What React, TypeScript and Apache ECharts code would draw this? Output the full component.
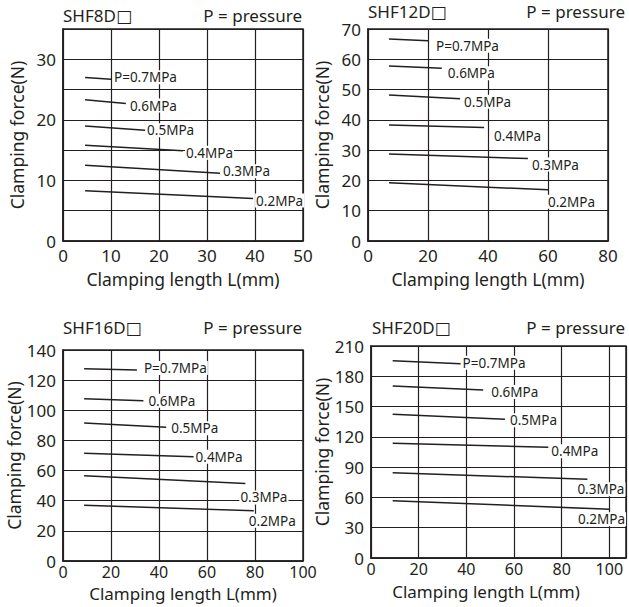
import React, { useEffect, useRef } from 'react';
import * as echarts from 'echarts';

// ---- Data ----
const pressureLabels = ['P=0.7MPa', '0.6MPa', '0.5MPa', '0.4MPa', '0.3MPa', '0.2MPa'];

// SHF8D
const shf8LenStart = [4.6, 4.6, 4.6, 4.6, 4.6, 4.6];
const shf8LenEnd = [10, 13.1, 17.1, 25, 32.7, 39.6];
const shf8ForceStart = [27.0, 23.3, 19.0, 15.8, 12.5, 8.3];
const shf8ForceEnd = [26.7, 22.7, 18.3, 14.9, 11.2, 7.0];

// SHF12D
const shf12LenStart = [7, 7, 7, 7, 7, 7];
const shf12LenEnd = [20, 24.6, 30.7, 38.7, 53.3, 60];
const shf12ForceStart = [66.7, 57.8, 48.2, 38.3, 28.7, 19.2];
const shf12ForceEnd = [66.1, 57.0, 47.0, 37.5, 27.2, 16.9];

// SHF16D
const shf16LenStart = [8.8, 8.8, 8.8, 8.8, 8.8, 8.8];
const shf16LenEnd = [30.8, 33.5, 43, 54.4, 76, 79.5];
const shf16ForceStart = [127.6, 107.7, 91.6, 71.5, 56.6, 37.0];
const shf16ForceEnd = [126.7, 106.4, 88.7, 69.2, 51.5, 33.3];

// SHF20D
const shf20LenStart = [9.1, 9.1, 9.1, 9.1, 9.1, 9.1];
const shf20LenEnd = [37.6, 47.1, 56.2, 74.4, 90.8, 100.3];
const shf20ForceStart = [195.4, 170.4, 142.3, 113.6, 84.5, 56.8];
const shf20ForceEnd = [192.5, 166.4, 137.4, 109.7, 78.0, 48.2];

// Axis ticks
const titles = ['SHF8D□', 'SHF12D□', 'SHF16D□', 'SHF20D□'];
const xMax = [50, 80, 100, 107];
const xStep = [10, 20, 20, 20];
const yMax = [35, 70, 140, 210];
const yStep = [5, 10, 20, 30];
const yLabelStep = [10, 10, 20, 30];

// ---- Layout (styles, not data) ----
const INK = '#231f20';
const FONT = '"Noto Sans", "DejaVu Sans", sans-serif';
const grids = [
  { left: 63, top: 29, width: 240, height: 212 },
  { left: 368, top: 29, width: 240, height: 212 },
  { left: 63, top: 350, width: 240, height: 211 },
  { left: 371, top: 346, width: 255, height: 212 },
];
const labelOffsets = [
  [[2, -2], [3, 2], [1, 0], [2, 2], [2, -2], [2, 2]],
  [[7, 5], [5, 5], [3, 3], [9, 9], [3, 6], [-1, 12]],
  [[6, -2], [4, 0], [4, 1], [1, 0], [-6, 14], [-6, 10]],
  [[1, -1], [7, 2], [4, 1], [2, 4], [-11, 10], [-33, 10]],
];
const titlePos = [
  { lx: 63, rx: 302, y: 18 },
  { lx: 368, rx: 625, y: 14 },
  { lx: 63, rx: 302, y: 330 },
  { lx: 372, rx: 625, y: 330 },
];
const xNamePad = [[0, 0, 0, 0], [0, 0, 0, 0], [0, 0, 0, 0], [0, 25, 0, 0]];
const xNameGap = [29, 29, 24, 25];
const xNameSize = [17.5, 17.5, 17, 17];
const xLabelMargin = [6, 6, 3, 3];
const xLabelSize = [17, 17, 16, 16];

const panels = [
  [shf8LenStart, shf8LenEnd, shf8ForceStart, shf8ForceEnd],
  [shf12LenStart, shf12LenEnd, shf12ForceStart, shf12ForceEnd],
  [shf16LenStart, shf16LenEnd, shf16ForceStart, shf16ForceEnd],
  [shf20LenStart, shf20LenEnd, shf20ForceStart, shf20ForceEnd],
];

export default function App() {
  const ref = useRef<HTMLDivElement>(null);
  useEffect(() => {
    if (!ref.current) return;
    const chart = echarts.init(ref.current, null, { renderer: 'svg' });

    const series: any[] = [];
    panels.forEach((p, i) => {
      const [xs, xe, ys, ye] = p;
      pressureLabels.forEach((lab, j) => {
        series.push({
          type: 'line',
          name: lab,
          xAxisIndex: i,
          yAxisIndex: i,
          data: [
            [xs[j], ys[j]],
            [xe[j], ye[j]],
          ],
          symbol: 'none',
          silent: true,
          z: 5,
          lineStyle: { color: INK, width: 1.5 },
          endLabel: {
            show: true,
            formatter: lab,
            distance: 0,
            offset: labelOffsets[i][j],
            color: INK,
            fontSize: 13.5,
            fontFamily: FONT,
            backgroundColor: '#fff',
            padding: [0, 1],
          },
        });
      });
    });

    const graphics: any[] = [];
    titlePos.forEach((t, i) => {
      graphics.push({
        type: 'text',
        left: t.lx,
        top: t.y - 11,
        style: { text: titles[i], fontSize: 17, fontFamily: FONT, fill: INK },
      });
      graphics.push({
        type: 'text',
        right: 629 - t.rx,
        top: t.y - 11,
        style: { text: 'P = pressure', fontSize: 17, fontFamily: FONT, fill: INK },
      });
    });

    chart.setOption({
      animation: false,
      grid: grids.map((g) => ({
        ...g,
        show: true,
        borderColor: INK,
        borderWidth: 1.5,
        backgroundColor: 'transparent',
      })),
      xAxis: grids.map((_, i) => ({
        type: 'value',
        gridIndex: i,
        min: 0,
        max: xMax[i],
        interval: xStep[i],
        name: 'Clamping length L(mm)',
        nameLocation: 'middle',
        nameGap: xNameGap[i],
        nameTextStyle: { fontSize: xNameSize[i], fontFamily: FONT, color: INK, padding: xNamePad[i] },
        axisLine: { show: true, lineStyle: { color: INK, width: 1.5 } },
        axisTick: { show: false },
        axisLabel: {
          margin: xLabelMargin[i],
          fontSize: xLabelSize[i],
          fontFamily: FONT,
          color: INK,
          formatter: (v: number) => (v % xStep[i] === 0 ? String(v) : ''),
        },
        splitLine: { show: true, lineStyle: { color: INK, width: 1.2 } },
      })),
      yAxis: grids.map((_, i) => ({
        type: 'value',
        gridIndex: i,
        min: 0,
        max: yMax[i],
        interval: yStep[i],
        name: 'Clamping force(N)',
        nameLocation: 'middle',
        nameGap: 37,
        nameTextStyle: { fontSize: 17.5, fontFamily: FONT, color: INK },
        axisLine: { show: true, lineStyle: { color: INK, width: 1.5 } },
        axisTick: { show: false },
        axisLabel: {
          margin: 7,
          fontSize: 17,
          fontFamily: FONT,
          color: INK,
          formatter: (v: number) => (v % yLabelStep[i] === 0 ? String(v) : ''),
        },
        splitLine: { show: true, lineStyle: { color: INK, width: 1.2 } },
      })),
      series,
      graphic: graphics,
    });

    return () => chart.dispose();
  }, []);

  return (
    <div
      ref={ref}
      style={{ position: 'absolute', left: 0, top: 0, width: 629, height: 607, background: '#fff' }}
    />
  );
}
